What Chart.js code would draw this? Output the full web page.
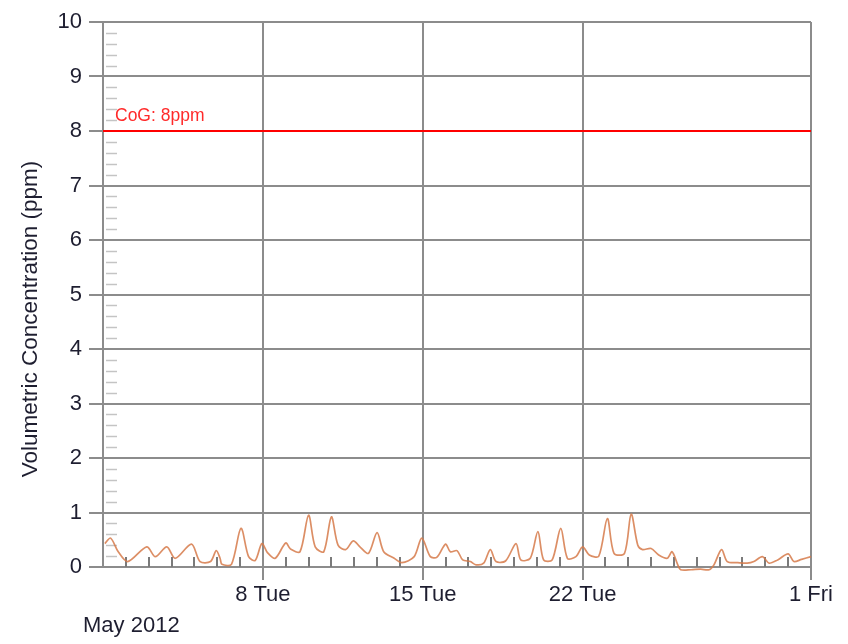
<!DOCTYPE html>
<html>
<head>
<meta charset="utf-8">
<script src="https://cdn.jsdelivr.net/npm/chart.js@4.4.1/dist/chart.umd.min.js"></script>
<style>
  body { margin: 0; background: #fff; }
  #wrap { width: 848px; height: 644px; }
</style>
</head>
<body>
<div id="wrap"><canvas id="chart" width="848" height="644"></canvas></div>
<script>
// hours since 1 May 2012 00:00
const hours = [2, 8, 16, 26, 46, 55, 67, 76, 93, 102, 113, 119, 123, 125, 135, 145, 153, 160, 167,
  173, 181, 192, 197, 207, 216, 223, 232, 240, 247, 255, 263, 270, 279, 288, 295, 306, 314, 327, 335,
  344, 351, 360, 365, 372, 378, 386, 392, 400, 407, 413, 423, 434, 439, 449, 457, 463, 472, 481, 488,
  497, 504, 511, 521, 530, 537, 548, 555, 562, 567, 576, 584, 593, 598, 604, 607, 618, 628, 637, 642,
  650, 656, 667, 677, 684, 693, 700, 709, 720, 726, 734, 744];
const ppm = [0.43, 0.53, 0.28, 0.10, 0.37, 0.19, 0.37, 0.16, 0.42, 0.10, 0.10, 0.30, 0.16, 0.05, 0.05, 0.71, 0.19, 0.12, 0.43,
  0.26, 0.16, 0.44, 0.33, 0.28, 0.95, 0.37, 0.28, 0.92, 0.40, 0.32, 0.48, 0.37, 0.25, 0.63, 0.28, 0.16, 0.08, 0.19, 0.53,
  0.19, 0.18, 0.42, 0.28, 0.30, 0.13, 0.10, 0.04, 0.07, 0.32, 0.10, 0.11, 0.43, 0.13, 0.16, 0.65, 0.13, 0.13, 0.71, 0.16,
  0.19, 0.37, 0.22, 0.20, 0.89, 0.25, 0.25, 0.97, 0.40, 0.32, 0.34, 0.22, 0.16, 0.28, 0.04, -0.05, -0.05, -0.04, -0.05, 0.04,
  0.32, 0.10, 0.08, 0.07, 0.10, 0.19, 0.07, 0.13, 0.24, 0.10, 0.14, 0.19];

const cogLimit = 8;
const cogLabel = "CoG: 8ppm";
const majorHours = [168, 336, 504, 744];
const majorLabels = ["8 Tue", "15 Tue", "22 Tue", "1 Fri"];
const monthLabel = "May 2012";
const yTitle = "Volumetric Concentration (ppm)";
const xMax = 744;

const gridColor = "#8c8c8c";
const textColor = "#1e1e30";

const extras = {
  id: "extras",
  beforeDatasetsDraw(chart) {
    const { ctx, chartArea: a, scales: { x, y } } = chart;
    ctx.save();
    // minor y ticks every 0.2
    ctx.strokeStyle = "#c4c4c4";
    ctx.lineWidth = 1.5;
    for (let v = 0.2; v < 10; v += 0.2) {
      if (Math.abs(v - Math.round(v)) < 0.01) continue;
      const py = Math.round(y.getPixelForValue(v)) + 0.5;
      ctx.beginPath();
      ctx.moveTo(a.left + 3, py);
      ctx.lineTo(a.left + 14, py);
      ctx.stroke();
    }
    // minor day ticks
    ctx.strokeStyle = "#7a7a7a";
    ctx.lineWidth = 2;
    for (let h = 24; h < xMax; h += 24) {
      if (majorHours.includes(h)) continue;
      const px = Math.round(x.getPixelForValue(h));
      ctx.beginPath();
      ctx.moveTo(px, a.bottom);
      ctx.lineTo(px, a.bottom - 10);
      ctx.stroke();
    }
    ctx.restore();
  },
  afterDraw(chart) {
    const { ctx, chartArea: a, scales: { y } } = chart;
    ctx.save();
    ctx.fillStyle = "#ff2a2a";
    ctx.font = "17.5px 'Liberation Sans', Arial, sans-serif";
    ctx.textBaseline = "alphabetic";
    ctx.fillText(cogLabel, a.left + 12, y.getPixelForValue(cogLimit) - 10);

    ctx.fillStyle = textColor;
    ctx.font = "22px 'Liberation Sans', Arial, sans-serif";
    ctx.fillText(monthLabel, 83, 632);

    ctx.translate(31, 319);
    ctx.rotate(-Math.PI / 2);
    ctx.textAlign = "center";
    ctx.textBaseline = "middle";
    ctx.font = "22.5px 'Liberation Sans', Arial, sans-serif";
    ctx.fillText(yTitle, 0, 0);
    ctx.restore();
  }
};

new Chart(document.getElementById("chart"), {
  type: "line",
  data: {
    datasets: [
      {
        data: hours.map((h, i) => ({ x: h, y: ppm[i] })),
        borderColor: "rgba(214,122,74,0.85)",
        borderWidth: 1.7,
        pointRadius: 0,
        tension: 0.3,
        clip: false
      },
      {
        data: [{ x: 0, y: cogLimit }, { x: xMax, y: cogLimit }],
        borderColor: "#ff0000",
        borderWidth: 2,
        pointRadius: 0
      }
    ]
  },
  options: {
    responsive: false,
    animation: false,
    layout: { padding: { top: 22, right: 37, left: 0, bottom: 0 } },
    plugins: { legend: { display: false }, tooltip: { enabled: false } },
    scales: {
      x: {
        type: "linear",
        min: 0,
        max: xMax,
        afterBuildTicks(scale) {
          const t = [];
          for (let h = 0; h <= xMax; h += 24) t.push({ value: h });
          scale.ticks = t;
        },
        afterFit(scale) { scale.height = 77; },
        ticks: {
          autoSkip: false,
          maxRotation: 0,
          padding: 2,
          color: textColor,
          font: { family: "'Liberation Sans', Arial, sans-serif", size: 22 },
          callback: (v) => {
            const i = majorHours.indexOf(v);
            return i >= 0 ? majorLabels[i] : "";
          }
        },
        grid: {
          lineWidth: 2,
          tickLength: 13,
          color: (c) => (c.tick && majorHours.includes(c.tick.value) ? gridColor : "rgba(0,0,0,0)")
        },
        border: { display: true, color: gridColor, width: 2 }
      },
      y: {
        min: 0,
        max: 10,
        afterFit(scale) { scale.width = 103; },
        ticks: {
          stepSize: 1,
          padding: 7,
          color: textColor,
          font: { family: "'Liberation Sans', Arial, sans-serif", size: 22 }
        },
        grid: { lineWidth: 2, tickLength: 14, color: gridColor },
        border: { color: gridColor, width: 2 }
      }
    }
  },
  plugins: [extras]
});
</script>
</body>
</html>
